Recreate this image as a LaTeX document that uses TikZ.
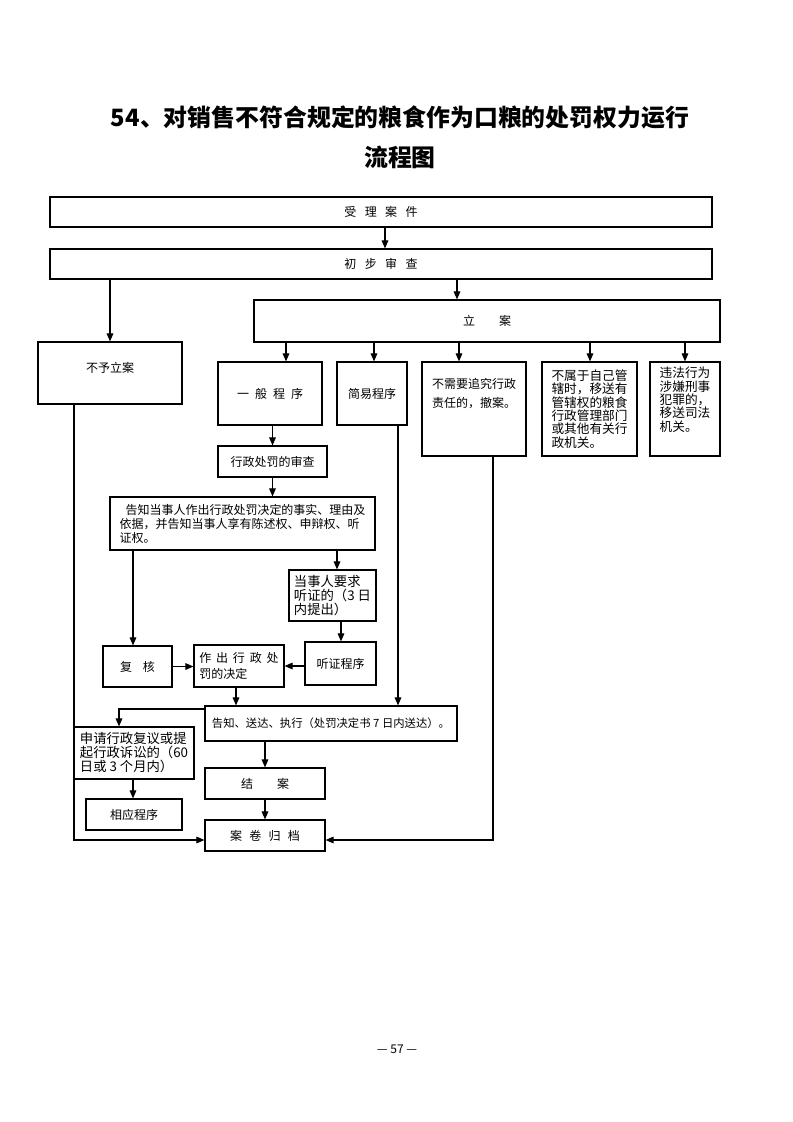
\documentclass[tikz,border=0pt]{standalone}
\usepackage{fontspec}
\usetikzlibrary{arrows.meta}
\newfontfamily\cjk{Noto Sans CJK SC}

\begin{document}
\begin{tikzpicture}[x=0.75pt,y=-0.75pt]
\tikzstyle{every node}+=[inner sep=0pt,font=\cjk\fontsize{9}{10.5}\selectfont]
\tikzstyle{box}=[draw=black,line width=0.9pt,align=left]
\tikzstyle{arr}=[black,line width=0.8pt,-{Triangle[length=6pt,width=5pt]}]
\useasboundingbox (0,0) rectangle (793,1122);
\node[font=\cjk\bfseries\fontsize{17.9}{20}\selectfont] (title) at (400,117) {54、对销售不符合规定的粮食作为口粮的处罚权力运行};
\node[font=\cjk\bfseries\fontsize{17.9}{20}\selectfont] (title2) at (400,157) {流程图};
\node[box,minimum width=496.5pt,minimum height=22.5pt] (sl) at (381,212) {受\hspace{0.7em}理\hspace{0.7em}案\hspace{0.7em}件};
\node[box,minimum width=496.5pt,minimum height=22.5pt] (cb) at (381,264) {初\hspace{0.7em}步\hspace{0.7em}审\hspace{0.7em}查};
\node[box,minimum width=349.5pt,minimum height=31.5pt] (la) at (487,321) {立\hspace{2em}案};
\node[box,minimum width=108pt,minimum height=46.5pt,text depth=8.5pt] (byla) at (110,373) {不予立案};
\node[box,minimum width=78pt,minimum height=47.25pt] (yb) at (270,393.5) {一\hspace{0.5em}般\hspace{0.5em}程\hspace{0.5em}序};
\node[box,minimum width=52.5pt,minimum height=47.25pt] (jy) at (372,393.5) {简易程序};
\node[box,minimum width=78pt,minimum height=70.5pt,text depth=24.4pt,font=\cjk\fontsize{9}{14}\selectfont] (bxy) at (474,409) {不需要追究行政\\责任的，撤案。};
\node[box,minimum width=71.25pt,minimum height=70.5pt,font=\cjk\fontsize{9.5}{10}\selectfont] (bsy) at (589.5,409) {不属于自己管\\辖时，移送有\\管辖权的粮食\\行政管理部门\\或其他有关行\\政机关。};
\node[box,minimum width=52.5pt,minimum height=70.5pt,text depth=14.9pt,font=\cjk\fontsize{9.5}{10}\selectfont] (wf) at (685,409) {违法行为\\涉嫌刑事\\犯罪的，\\移送司法\\机关。};
\node[box,minimum width=81.75pt,minimum height=23.25pt] (sc) at (272.5,461.5) {行政处罚的审查};
\node[box,minimum width=198.75pt,minimum height=39.75pt] (gz) at (242.5,523.5) {\hspace{0.5em}告知当事人作出行政处罚决定的事实、理由及\\依据，并告知当事人享有陈述权、申辩权、听\\证权。};
\node[box,minimum width=65.25pt,minimum height=38.25pt,font=\cjk\fontsize{10}{10.2}\selectfont] (ts) at (332.5,595.5) {当事人要求\\听证的（3 日\\内提出）};
\node[box,minimum width=51.75pt,minimum height=30.75pt] (fh) at (137.5,666.5) {复\hspace{0.9em}核};
\node[box,minimum width=67.5pt,minimum height=31.5pt,font=\cjk\fontsize{9}{12}\selectfont] (zc) at (239,666) {作\hspace{0.4em}出\hspace{0.4em}行\hspace{0.4em}政\hspace{0.4em}处\\罚的决定};
\node[box,minimum width=53.25pt,minimum height=32.25pt] (tz) at (340.5,663.5) {听证程序};
\node[box,minimum width=189pt,minimum height=26.25pt,font=\cjk\fontsize{8.5}{10}\selectfont] (sd) at (331,723.5) {告知、送达、执行（处罚决定书 7 日内送达）。};
\node[box,minimum width=90pt,minimum height=39pt,font=\cjk\fontsize{10}{10.5}\selectfont] (sq) at (134,753) {申请行政复议或提\\起行政诉讼的（60\\日或 3 个月内）};
\node[box,minimum width=72pt,minimum height=23.25pt] (xy) at (134,814.5) {相应程序};
\node[box,minimum width=90pt,minimum height=23.25pt] (ja) at (265,783.5) {结\hspace{2em}案};
\node[box,minimum width=90pt,minimum height=23.25pt] (ag) at (265,835.5) {案\hspace{0.6em}卷\hspace{0.6em}归\hspace{0.6em}档};
\node[font=\cjk\fontsize{9}{10}\selectfont] (page) at (397,1049) {— 57 —};
\draw[arr] (sl.south -| 385,0) -- (cb.north -| 385,0);
\draw[arr] (cb.south -| byla) -- (byla.north);
\draw[arr] (cb.south -| 457,0) -- (la.north -| 457,0);
\draw[arr] (la.south -| 286,0) -- (yb.north -| 286,0);
\draw[arr] (la.south -| 374,0) -- (jy.north -| 374,0);
\draw[arr] (la.south -| 459,0) -- (bxy.north -| 459,0);
\draw[arr] (la.south -| 590,0) -- (bsy.north -| 590,0);
\draw[arr] (la.south -| wf) -- (wf.north);
\draw[arr] (yb.south -| sc) -- (sc.north);
\draw[arr] (sc.south) -- (gz.north -| sc);
\draw[arr] (gz.south -| 133,0) -- (fh.north -| 133,0);
\draw[arr] (gz.south -| 337,0) -- (ts.north -| 337,0);
\draw[arr] (ts.south -| 341,0) -- (tz.north -| 341,0);
\draw[arr] (fh.east) -- (zc.west |- fh);
\draw[arr] (tz.west |- zc) -- (zc.east);
\draw[arr] (zc.south -| 236,0) -- (sd.north -| 236,0);
\draw[arr] (jy.south -| 398,0) -- (sd.north -| 398,0);
\draw[arr] (sd.west |- 0,709) -| (sq.north -| 119,0);
\draw[arr] (sq.south -| 133,0) -- (xy.north -| 133,0);
\draw[arr] (sd.south -| ja) -- (ja.north);
\draw[arr] (ja.south) -- (ag.north);
\draw[arr] (byla.south -| 74,0) |- (ag.west |- 0,840);
\draw[arr] (bxy.south -| 493,0) |- (ag.east |- 0,840);
\end{tikzpicture}
\end{document}
